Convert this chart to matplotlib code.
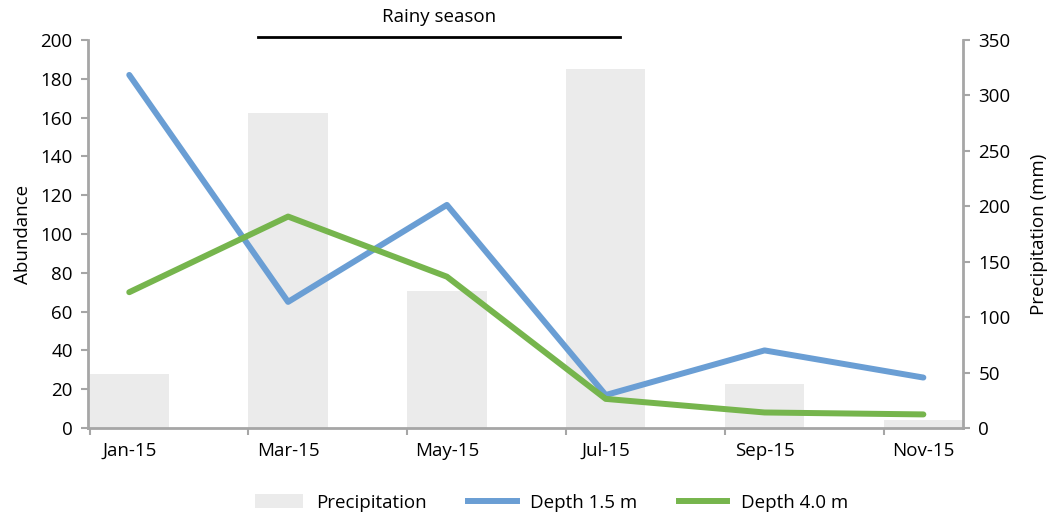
import numpy as np
import matplotlib.pyplot as plt
from matplotlib.patches import Patch
from matplotlib.lines import Line2D

plt.rcParams['font.family'] = ['Open Sans', 'DejaVu Sans']

months = ["Jan-15", "Mar-15", "May-15", "Jul-15", "Sep-15", "Nov-15"]
precip = [49, 284, 124, 324, 40, 7]
depth_15 = [182, 65, 115, 17, 40, 26]
depth_40 = [70, 109, 78, 15, 8, 7]

blue = "#6A9ED4"
green = "#76B54D"
bar_col = "#EBEBEB"
spine_col = "#A6A6A6"
fs = 13.5

fig = plt.figure(figsize=(10.56, 5.13), dpi=100)
ax = fig.add_axes([0.0833, 0.1657, 0.8287, 0.7563])
ax2 = ax.twinx()

x = np.arange(len(months))
ax2.bar(x, precip, width=0.5, color=bar_col, zorder=1)
ax2.set_ylim(0, 350)
ax2.set_yticks(np.arange(0, 351, 50))

# lines on top of bars
ax.set_zorder(ax2.get_zorder() + 1)
ax.patch.set_visible(False)
ax.plot(x, depth_15, color=blue, lw=4.3, solid_capstyle='round')
ax.plot(x, depth_40, color=green, lw=4.3, solid_capstyle='round')
ax.set_ylim(0, 200)
ax.set_yticks(np.arange(0, 201, 20))
ax.set_xlim(-0.26, 5.25)

ax.set_xticks(x)
ax.set_xticklabels(months)
ax.set_xticks(x - 0.25, minor=True)
ax.tick_params(axis='x', which='major', length=0, pad=10, labelsize=fs)
ax.tick_params(axis='x', which='minor', length=5, width=1.5, color=spine_col)
ax.tick_params(axis='y', length=5, width=1.5, color=spine_col, labelsize=fs, pad=6)
ax2.tick_params(axis='y', length=5, width=1.5, color=spine_col, labelsize=fs, pad=6)

for a in (ax, ax2):
    a.spines['top'].set_visible(False)
    for s in ('left', 'right', 'bottom'):
        a.spines[s].set_color(spine_col)
        a.spines[s].set_linewidth(2)
ax.spines['right'].set_visible(False)
ax2.spines['left'].set_visible(False)
ax2.spines['bottom'].set_visible(False)

ax.set_ylabel("Abundance", fontsize=fs, labelpad=6)
ax2.set_ylabel("Precipitation (mm)", fontsize=fs, labelpad=14)

# rainy season marker
ax.plot([0.81, 3.09], [201.5, 201.5], color='black', lw=2, clip_on=False)
ax.text(1.95, 207, "Rainy season", ha='center', va='bottom', fontsize=fs)

handles = [Patch(facecolor=bar_col, edgecolor='none'),
           Line2D([], [], color=blue, lw=4.3),
           Line2D([], [], color=green, lw=4.3)]
fig.legend(handles, ["Precipitation", "Depth 1.5 m", "Depth 4.0 m"],
           loc='lower center', bbox_to_anchor=(0.522, -0.03), ncol=3,
           frameon=False, fontsize=fs, handlelength=2.6, handletextpad=0.7,
           columnspacing=2.2)

fig.savefig("out.png", dpi=100)
